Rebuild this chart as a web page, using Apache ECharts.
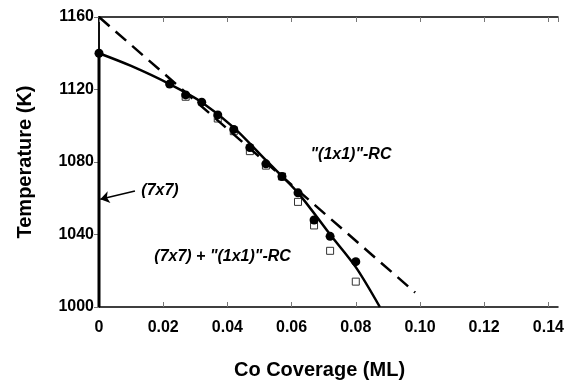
<!DOCTYPE html>
<html>
<head>
<meta charset="utf-8">
<script src="https://cdn.jsdelivr.net/npm/echarts@6/dist/echarts.min.js"></script>
<style>
  html, body { margin: 0; padding: 0; background: #fff; }
  #chart { width: 570px; height: 385px; }
</style>
</head>
<body>
<div id="chart"></div>
<script>
// measured points (filled circles)
const circleCoverage = [0, 0.022, 0.027, 0.032, 0.037, 0.042, 0.047, 0.052, 0.057, 0.062, 0.067, 0.072, 0.080];
const circleTemp = [1140, 1123, 1117, 1113, 1106, 1098, 1088, 1079, 1072, 1063, 1048, 1039, 1025];
// measured points (open squares)
const squareCoverage = [0.027, 0.037, 0.042, 0.047, 0.052, 0.057, 0.062, 0.067, 0.072, 0.080];
const squareTemp = [1116, 1104, 1097, 1086, 1078, 1072, 1058, 1045, 1031, 1014];
// solid curve
const curveCoverage = [0, 0.01, 0.022, 0.032, 0.042, 0.052, 0.062, 0.072, 0.080, 0.0875];
const curveTemp = [1140, 1133, 1123, 1113, 1099, 1081, 1063, 1040, 1022, 1000];
// dashed straight line
const dashCoverage = [0, 0.0985];
const dashTemp = [1160, 1008];
// (7x7) boundary along zero coverage
const edgeCoverage = [0, 0];
const edgeTemp = [1000, 1140];
// axis ticks
const xTicks = [0, 0.02, 0.04, 0.06, 0.08, 0.10, 0.12, 0.14];
const yTicks = [1000, 1040, 1080, 1120, 1160];
// annotations
const noteTexts = ['(7x7)', '(7x7) + "(1x1)"-RC', '"(1x1)"-RC'];
const noteCoverage = [0.019, 0.0385, 0.0785];
const noteTemp = [1064, 1028, 1084];
const arrowFrom = [0.0112, 1064];
const arrowTo = [0.0004, 1059.5];

const zip = (xs, ys) => xs.map((x, i) => [x, ys[i]]);
const FONT = "Liberation Sans";

const chart = echarts.init(document.getElementById("chart"));

const xStep = xTicks[1] - xTicks[0];
const yStep = yTicks[1] - yTicks[0];

chart.setOption({
  animation: false,
  backgroundColor: "#fff",
  grid: { left: 99, right: 12, top: 17, bottom: 74 },
  xAxis: [
    {
      type: "value",
      min: xTicks[0],
      max: 0.143,
      interval: xStep,
      name: "Co Coverage (ML)",
      nameLocation: "middle",
      nameGap: 53,
      nameTextStyle: {
        fontFamily: FONT,
        fontWeight: "bold",
        fontSize: 20,
        color: "#000",
        padding: [0, 18, 0, 0],
      },
      axisLine: { show: true, lineStyle: { color: "#000", width: 1.5 } },
      axisTick: { show: true, inside: true, length: 5, lineStyle: { color: "#777", width: 1 } },
      axisLabel: {
        showMaxLabel: false,
        margin: 13,
        fontFamily: FONT,
        fontWeight: "bold",
        fontSize: 16,
        color: "#000",
        formatter: (v) => (v === 0 ? "0" : v.toFixed(2)),
      },
      splitLine: { show: false },
    },
    {
      type: "value",
      position: "top",
      min: xTicks[0],
      max: 0.143,
      interval: xStep,
      axisLine: { show: true, lineStyle: { color: "#000", width: 1.5 } },
      axisTick: { show: true, inside: true, length: 5, lineStyle: { color: "#777", width: 1 } },
      axisLabel: { show: false },
      splitLine: { show: false },
    },
  ],
  yAxis: [
    {
      type: "value",
      min: yTicks[0],
      max: yTicks[yTicks.length - 1],
      interval: yStep,
      name: "Temperature (K)",
      nameLocation: "middle",
      nameGap: 64,
      nameTextStyle: {
        fontFamily: FONT,
        fontWeight: "bold",
        fontSize: 20,
        color: "#000",
      },
      axisLine: { show: true, lineStyle: { color: "#000", width: 1.5 } },
      axisTick: { show: true, inside: false, length: 4, lineStyle: { color: "#777", width: 1 } },
      axisLabel: {
        margin: 5,
        fontFamily: FONT,
        fontWeight: "bold",
        fontSize: 16,
        color: "#000",
        formatter: (v) => String(v),
      },
      splitLine: { show: false },
    },
    {
      type: "value",
      position: "right",
      min: yTicks[0],
      max: yTicks[yTicks.length - 1],
      interval: yStep,
      axisLine: { show: true, lineStyle: { color: "#000", width: 1.5 } },
      axisTick: { show: true, inside: true, length: 5, lineStyle: { color: "#777", width: 1 } },
      axisLabel: { show: false },
      splitLine: { show: false },
    },
  ],
  series: [
    {
      name: "squares",
      type: "scatter",
      symbol: "rect",
      symbolSize: 7,
      itemStyle: { color: "#fff", borderColor: "#333", borderWidth: 1, opacity: 1 },
      data: zip(squareCoverage, squareTemp),
      z: 2,
    },
    {
      name: "edge",
      type: "line",
      showSymbol: false,
      lineStyle: { color: "#000", width: 3 },
      data: zip(edgeCoverage, edgeTemp),
      z: 3,
    },
    {
      name: "curve",
      type: "line",
      smooth: 0.3,
      showSymbol: false,
      lineStyle: { color: "#000", width: 2.5 },
      data: zip(curveCoverage, curveTemp),
      z: 3,
    },
    {
      name: "dashed",
      type: "line",
      showSymbol: false,
      lineStyle: { color: "#000", width: 2.5, type: [14, 8] },
      data: zip(dashCoverage, dashTemp),
      z: 3,
    },
    {
      name: "circles",
      type: "scatter",
      symbol: "circle",
      symbolSize: 9,
      itemStyle: { color: "#000", opacity: 1 },
      data: zip(circleCoverage, circleTemp),
      z: 4,
    },
    {
      name: "notes",
      type: "scatter",
      symbolSize: 0,
      silent: true,
      itemStyle: { opacity: 1 },
      data: noteTexts.map((t, i) => ({ name: t, value: [noteCoverage[i], noteTemp[i]] })),
      label: {
        show: true,
        position: "inside",
        formatter: "{b}",
        fontFamily: FONT,
        fontStyle: "italic",
        fontWeight: "bold",
        fontSize: 16,
        color: "#000",
        opacity: 1,
      },
      markLine: {
        silent: true,
        symbol: ["none", "arrow"],
        symbolSize: 9,
        label: { show: false },
        lineStyle: { color: "#000", width: 1.5, type: "solid", opacity: 1 },
        data: [[{ coord: arrowFrom }, { coord: arrowTo }]],
      },
      z: 5,
    },
  ],
});
</script>
</body>
</html>
